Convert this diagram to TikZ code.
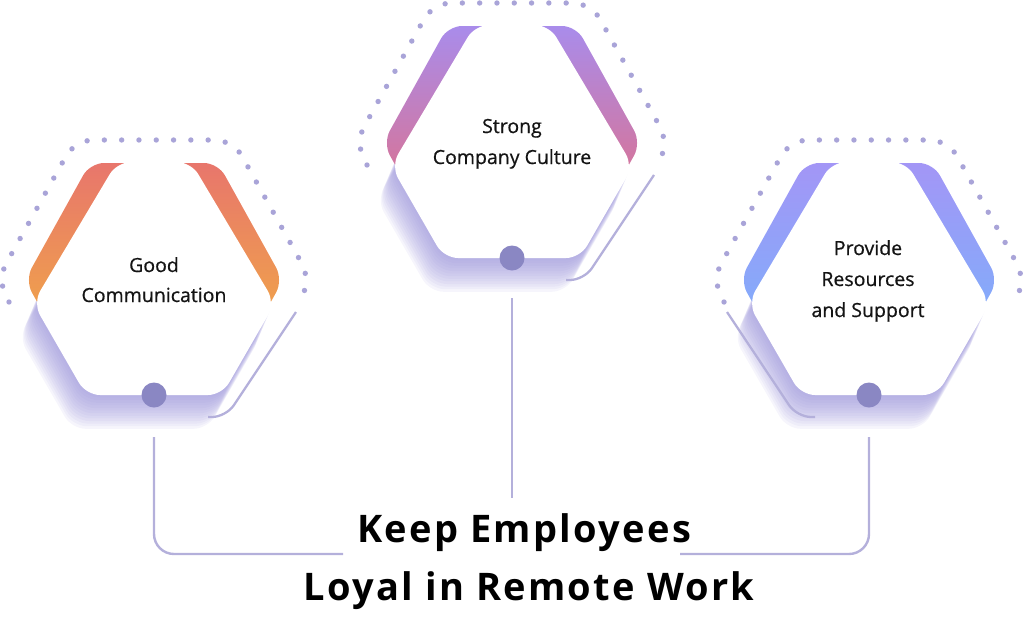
\documentclass[tikz,border=0pt]{standalone}
\usepackage{fontspec}
\setmainfont{Open Sans}
\newfontfamily\labfont{Open Sans}[FakeBold=0.6]
\newfontfamily\titlefont{Open Sans}[LetterSpace=6]
\definecolor{dotc}{HTML}{A9A4D8}
\definecolor{circc}{HTML}{8A87C3}
\definecolor{linec}{HTML}{B4B0DB}
\definecolor{shadc}{HTML}{9790D8}
\definecolor{gA}{HTML}{E8766C}
\definecolor{gB}{HTML}{EF9E4E}
\definecolor{pA}{HTML}{A98CEB}
\definecolor{pB}{HTML}{D3769F}
\definecolor{bA}{HTML}{A396F6}
\definecolor{bB}{HTML}{85AAFA}
\tikzset{
  hexlabel/.style={font=\labfont\fontsize{19.5}{23}\selectfont, anchor=base, inner sep=0pt, text=black!92},
  titlelabel/.style={font=\titlefont\fontsize{38}{44}\selectfont\bfseries, anchor=base, inner sep=0pt, text=black},
  conn/.style={draw=linec, line width=2.4pt, rounded corners=20pt},
  dotbead/.style={draw=dotc, line width=5.4pt, line cap=round, dash pattern=on 0pt off 17.3pt, rounded corners=18pt},
  sideline/.style={draw=linec, line width=2.3pt, rounded corners=14pt},
  hubdot/.style={circle, fill=circc, minimum size=25pt, inner sep=0pt},
}
% #1 cx, #2 cy, #3 top colour, #4 bottom colour, #5 side (1 right, -1 left)
\newcommand\hexblock[5]{%
  \begin{scope}[shift={(#1,#2)}]
    \foreach \k in {1,...,13}{%
      \fill[shadc, opacity=0.085, rounded corners=14pt, shift={(-1.1*\k,2.6*\k)}]
        (-37,-118) -- (37,-118) -- (121,23) -- (68,115) -- (-68,115) -- (-121,23) -- cycle;
    }
    \begin{scope}
      \clip[rounded corners=14pt] (-64,-117) -- (64,-117) -- (129,0) -- (64,117) -- (-64,117) -- (-129,0) -- cycle;
      \clip (-185,-130) -- (185,-130) -- (174,-69) -- (121,23) -- (-121,23) -- (-174,-69) -- cycle;
      \shade[top color=#3, bottom color=#4] (-135,-117) rectangle (135,23);
    \end{scope}
    \fill[white, rounded corners=14pt]
      (-37,-118) -- (37,-118) -- (121,23) -- (68,115) -- (-68,115) -- (-121,23) -- cycle;
    \draw[dotbead] (-145,22) -- (-157,0) -- (-79,-140) -- (79,-140) -- (157,0) -- (145,22);
    \draw[sideline, xscale=#5] (142,32) -- (72,137) -- (54,137);
  \end{scope}
}
\begin{document}
\begin{tikzpicture}[x=1pt, y=-1pt]
  \useasboundingbox (0,0) rectangle (1024,616);
  \hexblock{154}{280}{gA}{gB}{1}
  \hexblock{512}{143}{pA}{pB}{1}
  \hexblock{869}{280}{bA}{bB}{-1}

  \node[hexlabel] (t1a) at (154,272) {Good};
  \node[hexlabel] (t1b) at (154,302) {Communication};
  \node[hexlabel] (t2a) at (512,133) {Strong};
  \node[hexlabel] (t2b) at (512,164) {Company Culture};
  \node[hexlabel] (t3a) at (868,255) {Provide};
  \node[hexlabel] (t3b) at (868,286) {Resources};
  \node[hexlabel] (t3c) at (868,317) {and Support};

  \node[titlelabel] (title1) at (524,542) {Keep Employees};
  \node[titlelabel] (title2) at (529,600) {Loyal in Remote Work};

  \node[hubdot] (h1) at (154,395) {};
  \node[hubdot] (h2) at (512,258) {};
  \node[hubdot] (h3) at (869,395) {};

  \coordinate (l1) at (154,437);
  \coordinate (l2) at (343,554);
  \coordinate (m1) at (512,298);
  \coordinate (m2) at (512,498);
  \coordinate (r1) at (869,437);
  \coordinate (r2) at (680,554);
  \draw[conn] (l1) |- (l2);
  \draw[conn] (m1) -- (m2);
  \draw[conn] (r1) |- (r2);
\end{tikzpicture}
\end{document}
